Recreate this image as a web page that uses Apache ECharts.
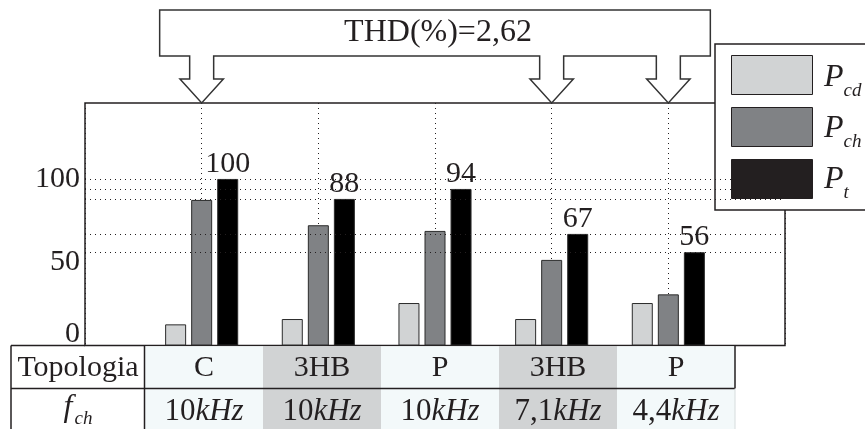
<!DOCTYPE html>
<html>
<head>
<meta charset="utf-8">
<script src="https://cdn.jsdelivr.net/npm/echarts@6/dist/echarts.min.js"></script>
<style>
  html, body { margin: 0; padding: 0; background: #fff; }
  #chart { width: 865px; height: 429px; }
</style>
</head>
<body>
<div id="chart"></div>
<script>
// Losses per topology (percent of the reference total)
const topologies = ['C', '3HB', 'P', '3HB', 'P'];
const freqValues = ['10', '10', '10', '7,1', '4,4'];
const freqUnit = 'kHz';
const pCd = [12.7, 15.9, 25.5, 15.9, 25.5];
const pCh = [87.4, 72.2, 68.8, 51.4, 30.7];
const pT = [100, 88, 94, 67, 56];
const yTicks = [0, 50, 100];
const yMax = 145.6;
const seriesNames = ['Pcd', 'Pch', 'Pt'];
const seriesSubs = ['cd', 'ch', 't'];
const thdText = 'THD(%)=2,62';
const thdTargets = [0, 3, 4];   // columns the THD callout points at
const rowTitle = 'Topologia';

const SERIF = '"Liberation Serif", "DejaVu Serif", serif';
const INK = '#231f20';
const FILLS = ['#d1d3d4', '#808285', '#000000'];
const CELL = ['#f3f9fa', '#d1d3d4'];

// Legend box geometry (labels with subscripts are set next to the swatches)
const LEG = { left: 715, top: 44, padTop: 11, padLeft: 16, sw: 81, sh: 39, gap: 12 };

// Category axis carries one empty slot on each side so the groups sit on inner ticks
const cats = ['', ...topologies, ''];
const pad = arr => [null, ...arr, null];

const chart = echarts.init(document.getElementById('chart'), null, { renderer: 'canvas' });

const barBase = {
  type: 'bar',
  barWidth: 21,
  barGap: '24%',
  z: 3,
  itemStyle: { borderColor: '#2b2b2b', borderWidth: 1 }
};

const option = {
  animation: false,
  backgroundColor: '#fff',
  grid: {
    left: 85, top: 103, width: 700, height: 242.5,
    show: true, borderColor: INK, borderWidth: 1.5, backgroundColor: 'transparent'
  },
  xAxis: {
    type: 'category',
    data: cats,
    boundaryGap: false,
    axisLine: { show: false },
    axisTick: { show: false },
    axisLabel: { show: false },
    splitLine: { show: true, interval: 0, lineStyle: { color: INK, width: 1, type: [1, 4] } }
  },
  yAxis: {
    type: 'value',
    min: 0,
    max: yMax,
    interval: yTicks[1] - yTicks[0],
    axisLine: { show: false },
    axisTick: { show: false },
    splitLine: { show: false },
    axisLabel: {
      showMaxLabel: false,
      margin: 5,
      color: INK,
      fontFamily: SERIF,
      fontSize: 30,
      formatter: v => {
        if (!yTicks.includes(v)) return '';
        return v === 0 ? '{z|0}' : String(v);
      },
      rich: { z: { fontFamily: SERIF, fontSize: 30, color: INK, padding: [0, 0, 22, 0] } }
    }
  },
  legend: {
    orient: 'vertical',
    left: LEG.left, top: LEG.top,
    itemWidth: LEG.sw, itemHeight: LEG.sh, itemGap: LEG.gap,
    padding: [LEG.padTop, 90, LEG.padTop, LEG.padLeft],
    backgroundColor: '#fff',
    borderColor: INK, borderWidth: 1.5,
    icon: 'rect',
    selectedMode: false,
    data: seriesNames.map((n, i) => ({ name: n, itemStyle: { color: i === 2 ? INK : FILLS[i], borderColor: INK, borderWidth: 1 } })),
    formatter: () => '',
    textStyle: { fontSize: 10 }
  },
  series: [
    // dotted reference lines at each total-loss level
    {
      type: 'line', data: [], z: 1, silent: true,
      markLine: {
        silent: true, symbol: 'none', animation: false,
        label: { show: false },
        lineStyle: { color: INK, width: 1, type: [1, 4] },
        data: pT.map(v => ({ yAxis: v }))
      }
    },
    { ...barBase, name: seriesNames[0], data: pad(pCd), itemStyle: { ...barBase.itemStyle, color: FILLS[0] } },
    { ...barBase, name: seriesNames[1], data: pad(pCh), itemStyle: { ...barBase.itemStyle, color: FILLS[1] } },
    {
      ...barBase, name: seriesNames[2], data: pad(pT),
      itemStyle: { ...barBase.itemStyle, color: FILLS[2] },
      label: { show: true, position: 'top', distance: 0, color: INK, fontFamily: SERIF, fontSize: 30 }
    }
  ]
};

chart.setOption(option);

// Annotation callout, legend labels and the parameter table under the plot
const graphics = [];
const xs = thdTargets.map(i => chart.convertToPixel({ xAxisIndex: 0 }, i + 1));
const tipY = chart.convertToPixel({ yAxisIndex: 0 }, yMax);
const boxTop = 10, boxBot = 56, stemBot = 79, stemHW = 12, headHW = 21.7, boxPad = 42;
const boxL = xs[0] - boxPad, boxR = xs[xs.length - 1] + boxPad;
const pts = [[boxL, boxTop], [boxR, boxTop], [boxR, boxBot]];
for (let k = xs.length - 1; k >= 0; k--) {
  const x = xs[k];
  pts.push([x + stemHW, boxBot], [x + stemHW, stemBot], [x + headHW, stemBot], [x, tipY],
           [x - headHW, stemBot], [x - stemHW, stemBot], [x - stemHW, boxBot]);
}
pts.push([boxL, boxBot]);
graphics.push({
  type: 'polygon', z: 10,
  shape: { points: pts },
  style: { fill: '#fff', stroke: '#333', lineWidth: 1.5 }
});
graphics.push({
  type: 'text', z: 11,
  style: {
    text: thdText, x: (boxL + boxR) / 2 + 3, y: (boxTop + boxBot) / 2,
    align: 'center', verticalAlign: 'middle',
    fontFamily: SERIF, fontSize: 32, fill: INK
  }
});

seriesSubs.forEach((sub, i) => {
  const cy = LEG.top + LEG.padTop + i * (LEG.sh + LEG.gap) + LEG.sh / 2;
  graphics.push({
    type: 'text', z: 20, zlevel: 0,
    style: {
      text: `{p|P}{s|${sub}}`,
      x: LEG.left + LEG.padLeft + LEG.sw + 12, y: cy + 3,
      align: 'left', verticalAlign: 'middle',
      rich: {
        p: { fontFamily: SERIF, fontStyle: 'italic', fontSize: 32, fill: INK, color: INK },
        s: { fontFamily: SERIF, fontStyle: 'italic', fontSize: 19, fill: INK, color: INK, padding: [27, 0, 0, 0] }
      }
    }
  });
});

const tL = 11, tC = 145, colW = 118, rTop = 345.5, rMid = 388.5, rBot = 440;
topologies.forEach((t, i) => {
  const cx = tC + colW * i;
  graphics.push({
    type: 'rect', z: 0,
    shape: { x: cx, y: rTop + 0.8, width: colW, height: rBot - rTop },
    style: { fill: CELL[i % 2] }
  });
  graphics.push({
    type: 'text', z: 5,
    style: {
      text: t, x: cx + colW / 2, y: (rTop + rMid) / 2 + 1,
      align: 'center', verticalAlign: 'middle',
      fontFamily: SERIF, fontSize: 30, fill: INK
    }
  });
  graphics.push({
    type: 'text', z: 5,
    style: {
      text: `{n|${freqValues[i]}}{u|${freqUnit}}`,
      x: cx + colW / 2, y: 412,
      align: 'center', verticalAlign: 'middle',
      rich: {
        n: { fontFamily: SERIF, fontSize: 31, fill: INK, color: INK },
        u: { fontFamily: SERIF, fontSize: 31, fontStyle: 'italic', fill: INK, color: INK }
      }
    }
  });
});
graphics.push({
  type: 'text', z: 5,
  style: {
    text: rowTitle, x: (tL + tC) / 2, y: (rTop + rMid) / 2 + 1,
    align: 'center', verticalAlign: 'middle',
    fontFamily: SERIF, fontSize: 30, fill: INK
  }
});
graphics.push({
  type: 'text', z: 5,
  style: {
    text: '{f|f}{s|ch}', x: (tL + tC) / 2, y: 408,
    align: 'center', verticalAlign: 'middle',
    rich: {
      f: { fontFamily: SERIF, fontSize: 32, fontStyle: 'italic', fill: INK, color: INK },
      s: { fontFamily: SERIF, fontSize: 19, fontStyle: 'italic', fill: INK, color: INK, padding: [22, 0, 0, 2] }
    }
  }
});
const rule = (x1, y1, x2, y2, c, w) => graphics.push({
  type: 'line', z: 6, shape: { x1, y1, x2, y2 }, style: { stroke: c, lineWidth: w }
});
rule(tL, rTop, 85, rTop, INK, 1.5);
rule(tL, rMid, tC + colW * 5, rMid, INK, 1.5);
rule(tL, rTop, tL, rBot, INK, 1.5);
rule(tC - 0.5, rTop, tC - 0.5, rBot, INK, 1.5);
rule(tC + colW * 5, rTop, tC + colW * 5, rMid, INK, 1.5);
rule(tC + colW * 5, rMid, tC + colW * 5, rBot, '#d6dcdd', 1);

chart.setOption({ graphic: graphics });
</script>
</body>
</html>
